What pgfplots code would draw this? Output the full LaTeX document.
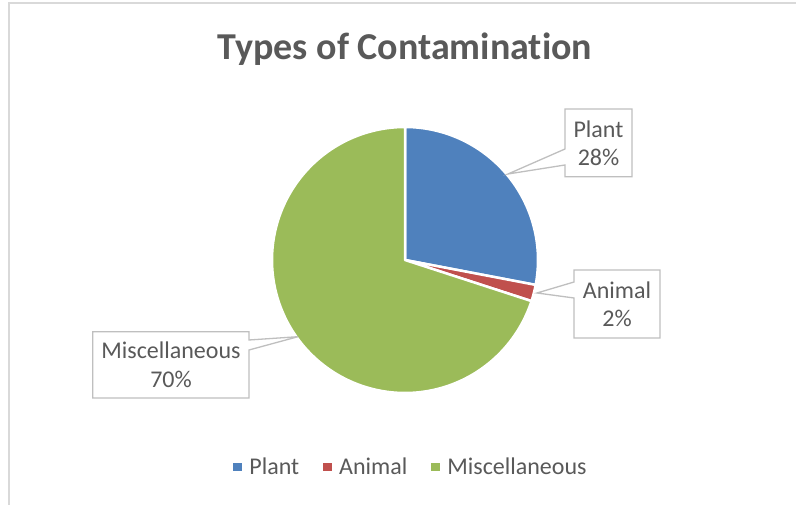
\documentclass[border=0pt]{standalone}
\usepackage{pgfplots}
\pgfplotsset{compat=1.18}
\usepackage{pgfplotstable}
\usepackage{fontspec}
\setmainfont{Carlito}[RawFeature={-liga;-clig;-dlig}]
\definecolor{plantblue}{HTML}{4F81BD}
\definecolor{animalred}{HTML}{C0504D}
\definecolor{miscgreen}{HTML}{9BBB59}
\definecolor{textgray}{HTML}{595959}
\definecolor{boxgray}{HTML}{BFBFBF}
\definecolor{framegray}{HTML}{D9D9D9}
\pgfplotstableread{
name value
Plant 28
Animal 2
Miscellaneous 70
}\pietable
\begin{document}
\begin{tikzpicture}
\pgfplotstablegetelem{0}{value}\of\pietable \pgfmathsetmacro\vA{\pgfplotsretval}
\pgfplotstablegetelem{1}{value}\of\pietable \pgfmathsetmacro\vB{\pgfplotsretval}
\pgfplotstablegetelem{2}{value}\of\pietable \pgfmathsetmacro\vC{\pgfplotsretval}
\pgfmathsetmacro\aA{90-3.6*\vA}
\pgfmathsetmacro\aB{\aA-3.6*\vB}
\pgfmathsetmacro\aC{\aB-3.6*\vC}
\useasboundingbox (0,0) rectangle (796pt,505pt);
\clip (0,0) rectangle (796pt,505pt);
\begin{axis}[
  at={(0,0)}, anchor=south west,
  width=796pt, height=505pt, scale only axis,
  xmin=0, xmax=796, ymin=0, ymax=505,
  axis lines=none, clip=false,
  legend columns=3,
  legend image code/.code={\fill[#1, draw=none] (0pt,-4.2pt) rectangle (8.5pt,4.2pt); \path[draw=none, fill=none] (0pt,0pt) -- (14pt,0pt);},
  legend style={at={(411/796,38/505)}, anchor=center, draw=none, fill=none,
    font=\fontsize{24}{29}\selectfont, text=textgray,
    /tikz/every even column/.append style={column sep=22pt}},
]
\draw[framegray, line width=1.5pt] (9,-20) -- (9,502) -- (820,502);
\addplot[fill=plantblue, draw=white, line width=2.5pt, line join=round, domain=\aA:90, samples=90, forget plot]
  ({405+133*cos(x)},{245+133*sin(x)}) -- (405,245) -- cycle;
\addplot[fill=animalred, draw=white, line width=2.5pt, line join=round, domain=\aB:\aA, samples=10, forget plot]
  ({405+133*cos(x)},{245+133*sin(x)}) -- (405,245) -- cycle;
\addplot[fill=miscgreen, draw=white, line width=2.5pt, line join=round, domain=\aC:\aB, samples=200, forget plot]
  ({405+133*cos(x)},{245+133*sin(x)}) -- (405,245) -- cycle;
\addlegendimage{fill=plantblue, draw=none}
\addlegendentry{Plant}
\addlegendimage{fill=animalred, draw=none}
\addlegendentry{Animal}
\addlegendimage{fill=miscgreen, draw=none}
\addlegendentry{Miscellaneous}
% title
\node[font=\fontsize{38}{46}\selectfont\bfseries, text=textgray, anchor=base] at (405,445) {Types of Contamination};
% callouts
\draw[boxgray, fill=white, line width=1.3pt] (565,396) -- (632,396) -- (632,328.3) -- (565,328.3) -- (565,340) -- (508,331) -- (565,356) -- cycle;
\node[align=center, font=\fontsize{24}{28.5}\selectfont, text=textgray] at (598.5,361.5) {Plant\\28\%};
\draw[boxgray, fill=white, line width=1.3pt] (574,235) -- (660,235) -- (660,167) -- (574,167) -- (574,207) -- (537,212) -- (574,223) -- cycle;
\node[align=center, font=\fontsize{24}{28.5}\selectfont, text=textgray] at (617,200.5) {Animal\\2\%};
\draw[boxgray, fill=white, line width=1.3pt] (92.7,173.3) -- (249,173.3) -- (249,165) -- (298,168.3) -- (249,155) -- (249,107) -- (92.7,107) -- cycle;
\node[align=center, font=\fontsize{24}{28.5}\selectfont, text=textgray] at (171,140) {Miscellaneous\\70\%};
\end{axis}
\end{tikzpicture}
\end{document}
